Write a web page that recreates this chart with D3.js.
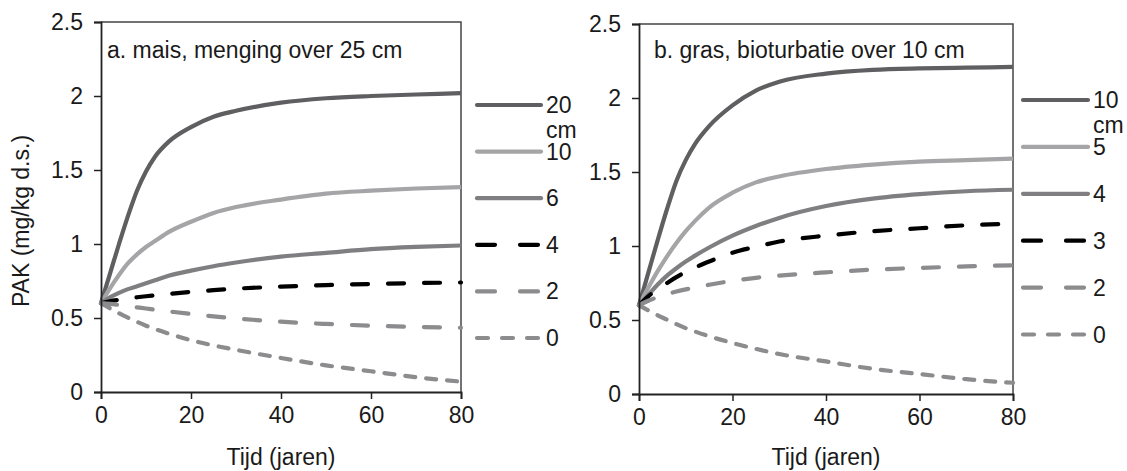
<!DOCTYPE html>
<html>
<head>
<meta charset="utf-8">
<script src="https://cdn.jsdelivr.net/npm/d3@7"></script>
<style>
  html, body { margin: 0; padding: 0; background: #fff; }
  svg { display: block; }
  text { font-family: "Liberation Sans", Arial, sans-serif; fill: #1a1a1a; }
</style>
</head>
<body>
<svg id="chart" width="1127" height="471"></svg>
<script>
// Time axis (years) shared by all curves
const years = [0, 2, 4, 6, 8, 10, 12, 15, 20, 25, 30, 40, 50, 60, 70, 80];

// Panel a: maize, mixing over 25 cm (PAK, mg/kg d.s.)
const mais20 = [0.6, 0.8, 1.0, 1.19, 1.36, 1.49, 1.59, 1.69, 1.79, 1.86, 1.90, 1.955, 1.985, 2.0, 2.01, 2.02];
const mais10 = [0.6, 0.7, 0.79, 0.87, 0.93, 0.98, 1.02, 1.08, 1.15, 1.21, 1.25, 1.30, 1.34, 1.36, 1.375, 1.385];
const mais6  = [0.6, 0.64, 0.67, 0.695, 0.715, 0.735, 0.755, 0.785, 0.82, 0.85, 0.875, 0.915, 0.94, 0.965, 0.98, 0.99];
const mais4  = [0.6, 0.613, 0.623, 0.632, 0.64, 0.647, 0.653, 0.662, 0.676, 0.688, 0.698, 0.712, 0.722, 0.73, 0.736, 0.74];
const mais2  = [0.6, 0.595, 0.588, 0.58, 0.572, 0.564, 0.556, 0.545, 0.527, 0.511, 0.497, 0.475, 0.46, 0.448, 0.44, 0.434];
const mais0  = [0.6, 0.565, 0.532, 0.502, 0.474, 0.448, 0.425, 0.395, 0.35, 0.315, 0.285, 0.23, 0.18, 0.14, 0.1, 0.07];

// Panel b: grass, bioturbation over 10 cm
const gras10 = [0.6, 0.82, 1.04, 1.25, 1.44, 1.58, 1.69, 1.81, 1.95, 2.05, 2.11, 2.165, 2.19, 2.2, 2.205, 2.21];
const gras5  = [0.6, 0.72, 0.83, 0.93, 1.02, 1.1, 1.17, 1.26, 1.36, 1.43, 1.47, 1.52, 1.55, 1.57, 1.58, 1.59];
const gras4  = [0.6, 0.67, 0.74, 0.8, 0.85, 0.895, 0.935, 0.99, 1.07, 1.135, 1.19, 1.27, 1.32, 1.35, 1.37, 1.38];
const gras3  = [0.6, 0.66, 0.71, 0.75, 0.79, 0.825, 0.855, 0.895, 0.955, 0.995, 1.03, 1.07, 1.1, 1.12, 1.14, 1.15];
const gras2  = [0.6, 0.63, 0.655, 0.675, 0.692, 0.707, 0.72, 0.738, 0.765, 0.785, 0.8, 0.822, 0.84, 0.852, 0.862, 0.87];
const gras0  = [0.6, 0.565, 0.532, 0.502, 0.472, 0.445, 0.422, 0.39, 0.345, 0.305, 0.27, 0.22, 0.17, 0.135, 0.1, 0.076];

// Legend labels (depth in cm)
const maisLabels = ["20", "10", "6", "4", "2", "0"];
const grasLabels = ["10", "5", "4", "3", "2", "0"];

// Axis ticks
const xTicks = [0, 20, 40, 60, 80];
const yTicks = [0, 0.5, 1, 1.5, 2, 2.5];

const titles = ["a. mais, menging over 25 cm", "b. gras, bioturbatie over 10 cm"];

// Line styles per legend position (curve dash, legend dash)
const styles = [
  { color: "#5f5f61", dash: null, legDash: null },
  { color: "#a5a5a7", dash: null, legDash: null },
  { color: "#7f7f81", dash: null, legDash: null },
  { color: "#000000", dash: "16,20", legDash: "18,25" },
  { color: "#8c8c8e", dash: "16,20", legDash: "18,25" },
  { color: "#8c8c8e", dash: "10,11", legDash: "11,14" }
];

const svg = d3.select("#chart");
const FONT = 23;

const panels = [
  { series: [mais20, mais10, mais6, mais4, mais2, mais0], labels: maisLabels, title: titles[0],
    x0: 101, x1: 461, y0: 392, y1: 22, titleDx: 6,
    legX0: 477, legX1: 541, legY: 105, legStep: 46.6, yLabel: true },
  { series: [gras10, gras5, gras4, gras3, gras2, gras0], labels: grasLabels, title: titles[1],
    x0: 639, x1: 1013, y0: 394, y1: 24, titleDx: 15,
    legX0: 1023, legX1: 1088, legY: 100, legStep: 46.9, yLabel: false }
];

panels.forEach(p => {
  const x = d3.scaleLinear().domain([0, 80]).range([p.x0, p.x1]);
  const y = d3.scaleLinear().domain([0, 2.5]).range([p.y0, p.y1]);
  const g = svg.append("g");

  // plot frame (top and right)
  g.append("path")
    .attr("d", `M${p.x0},${p.y1}H${p.x1}V${p.y0}`)
    .attr("fill", "none").attr("stroke", "#444").attr("stroke-width", 1.5);

  // curves
  const line = d3.line()
    .x((d, i) => x(years[i]))
    .y(d => y(d))
    .curve(d3.curveMonotoneX);

  p.series.forEach((s, i) => {
    const st = styles[i];
    g.append("path")
      .datum(s)
      .attr("d", line)
      .attr("fill", "none")
      .attr("stroke", st.color)
      .attr("stroke-width", 4.2)
      .attr("stroke-linecap", st.dash ? "round" : "butt")
      .attr("stroke-dasharray", st.dash);
  });

  // axes
  const yAxis = d3.axisLeft(y).tickValues(yTicks).tickSize(7).tickPadding(11)
    .tickFormat(d => d3.format("")(d));
  const xAxis = d3.axisBottom(x).tickValues(xTicks).tickSize(7).tickPadding(8);

  const ya = g.append("g").attr("transform", `translate(${p.x0},0)`).call(yAxis);
  const xa = g.append("g").attr("transform", `translate(0,${p.y0})`).call(xAxis);
  [ya, xa].forEach(a => {
    a.select(".domain").attr("stroke", "#222").attr("stroke-width", 1.8);
    a.selectAll(".tick line").attr("stroke", "#222").attr("stroke-width", 1.5);
    a.selectAll("text").attr("font-size", FONT).attr("fill", "#1a1a1a")
      .attr("font-family", "Liberation Sans, Arial, sans-serif");
  });

  // title inside plot
  g.append("text")
    .attr("x", p.x0 + p.titleDx).attr("y", 58)
    .attr("font-size", FONT)
    .text(p.title);

  // x-axis label
  g.append("text")
    .attr("x", (p.x0 + p.x1) / 2).attr("y", 465)
    .attr("text-anchor", "middle")
    .attr("font-size", FONT)
    .text("Tijd (jaren)");

  if (p.yLabel) {
    g.append("text")
      .attr("transform", `translate(29,${(p.y0 + p.y1) / 2 + 14}) rotate(-90)`)
      .attr("text-anchor", "middle")
      .attr("font-size", FONT)
      .text("PAK (mg/kg d.s.)");
  }

  // legend
  p.labels.forEach((lab, i) => {
    const st = styles[i];
    const ly = p.legY + i * p.legStep;
    g.append("line")
      .attr("x1", p.legX0).attr("x2", p.legX1)
      .attr("y1", ly).attr("y2", ly)
      .attr("stroke", st.color).attr("stroke-width", 4.2)
      .attr("stroke-linecap", "round")
      .attr("stroke-dasharray", st.legDash);
    g.append("text")
      .attr("x", p.legX1 + 5).attr("y", ly + 8)
      .attr("font-size", FONT)
      .text(lab);
    if (i === 0) {
      // unit wraps onto a second line under the first legend label
      g.append("text")
        .attr("x", p.legX1 + 5).attr("y", ly + 33)
        .attr("font-size", FONT)
        .text("cm");
    }
  });
});
</script>
</body>
</html>
